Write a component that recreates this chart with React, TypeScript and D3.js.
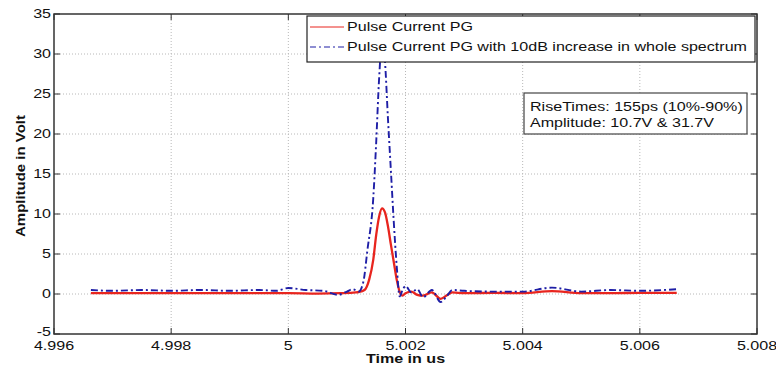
import React from "react";
import * as d3 from "d3";

const xTicks = [4.996, 4.998, 5.0, 5.002, 5.004, 5.006, 5.008];
const xTickLabels = ["4.996", "4.998", "5", "5.002", "5.004", "5.006", "5.008"];
const yTicks = [-5, 0, 5, 10, 15, 20, 25, 30, 35];
const yTickLabels = ["-5", "0", "5", "10", "15", "20", "25", "30", "35"];

const redTime = [
  4.99663, 4.9975, 4.9985, 4.9995, 5.0, 5.0005, 5.0009, 5.00115, 5.0012, 5.0013,
  5.00138, 5.00145, 5.0015, 5.00155, 5.0016, 5.00165, 5.0017, 5.00175, 5.0018,
  5.00185, 5.0019, 5.00195, 5.002, 5.0021, 5.0022, 5.0023, 5.00245, 5.0026,
  5.0027, 5.0028, 5.003, 5.0035, 5.004, 5.0045, 5.005, 5.0055, 5.006, 5.00663,
];
const redValues = [
  0.1, 0.1, 0.1, 0.1, 0.1, 0.05, 0.1, 0.2, 0.25, 0.5,
  1.8, 4.3, 7.4, 9.7, 10.7, 10.2, 8.5, 6.2, 4.0,
  1.8, 0.3, -0.2, 0.1, 0.3, -0.1, -0.2, 0.2, -0.6,
  -0.2, 0.2, 0.1, 0.15, 0.1, 0.35, 0.1, 0.1, 0.15, 0.15,
];

const blueTime = [
  4.99663, 4.997, 4.9975, 4.998, 4.9985, 4.999, 4.9995, 4.9998, 5.0, 5.0003,
  5.0006, 5.00085, 5.001, 5.0011, 5.0012, 5.00128, 5.00135, 5.00145, 5.0015,
  5.00155, 5.0016, 5.00165, 5.0017, 5.00175, 5.0018, 5.00185, 5.0019, 5.00195,
  5.002, 5.0021, 5.0022, 5.0023, 5.00245, 5.0026, 5.0027, 5.0028, 5.003, 5.0035,
  5.004, 5.0045, 5.005, 5.0055, 5.006, 5.00663,
];
const blueValues = [
  0.5, 0.4, 0.5, 0.4, 0.5, 0.4, 0.5, 0.4, 0.75, 0.5,
  0.4, -0.1, 0.3, 0.6, 0.3, 1.5, 5.5, 12.0, 19.0,
  27.0, 31.7, 29.0, 22.0, 15.5, 9.0, 3.5, -0.3, 0.5,
  1.0, 0.2, 0.6, -0.4, 0.5, -1.0, -0.3, 0.5, 0.4, 0.3,
  0.3, 0.8, 0.3, 0.5, 0.4, 0.6,
];

const legendLabels = ["Pulse Current PG", "Pulse Current PG with 10dB increase in whole spectrum"];
const noteLines = ["RiseTimes: 155ps (10%-90%)", "Amplitude: 10.7V & 31.7V"];

const W = 776;
const H = 367;
const M = { left: 54, right: 757, top: 14, bottom: 334 };
const FONT = "'Liberation Sans', Arial, Helvetica, sans-serif";
const SX = 1.34;
const RED = "#e8251e";
const BLUE = "#1e1ea6";

function SText({ x, y, anchor = "start", size = 12, weight = "normal", children }: any) {
  return (
    <text
      transform={`translate(${x},${y}) scale(${SX},1)`}
      textAnchor={anchor}
      fontSize={size}
      fontWeight={weight}
      fontFamily={FONT}
      fill="#111"
    >
      {children}
    </text>
  );
}

export default function App() {
  const x = d3.scaleLinear().domain([4.996, 5.008]).range([M.left, M.right]);
  const y = d3.scaleLinear().domain([-5, 35]).range([M.bottom, M.top]);

  const line = d3
    .line<[number, number]>()
    .x((d) => x(d[0]))
    .y((d) => y(d[1]))
    .curve(d3.curveMonotoneX);

  const redPts = redTime.map((t, i) => [t, redValues[i]] as [number, number]);
  const bluePts = blueTime.map((t, i) => [t, blueValues[i]] as [number, number]);

  const gridColor = "#b8b8b8";
  const axisColor = "#333";

  return (
    <svg
      width={W}
      height={H}
      style={{ position: "absolute", left: 0, top: 0, background: "#fff" }}
    >
      <rect x={0} y={0} width={W} height={H} fill="#fff" />
      {/* grid */}
      {xTicks.slice(1, -1).map((t) => (
        <line key={"gx" + t} x1={x(t)} x2={x(t)} y1={M.top} y2={M.bottom} stroke={gridColor} strokeDasharray="1,2" />
      ))}
      {yTicks.slice(1, -1).map((t) => (
        <line key={"gy" + t} x1={M.left} x2={M.right} y1={y(t)} y2={y(t)} stroke={gridColor} strokeDasharray="1,2" />
      ))}

      {/* series */}
      <path d={line(redPts) || ""} fill="none" stroke={RED} strokeWidth={2.3} />
      <path d={line(bluePts) || ""} fill="none" stroke={BLUE} strokeWidth={1.9} strokeDasharray="7,3,2,3" />

      {/* axes box */}
      <rect x={M.left} y={M.top} width={M.right - M.left} height={M.bottom - M.top} fill="none" stroke={axisColor} strokeWidth={1.5} />
      {xTicks.map((t) => (
        <g key={"tx" + t}>
          <line x1={x(t)} x2={x(t)} y1={M.bottom} y2={M.bottom - 6} stroke={axisColor} />
          <line x1={x(t)} x2={x(t)} y1={M.top} y2={M.top + 6} stroke={axisColor} />
        </g>
      ))}
      {yTicks.map((t) => (
        <g key={"ty" + t}>
          <line x1={M.left} x2={M.left + 6} y1={y(t)} y2={y(t)} stroke={axisColor} />
          <line x1={M.right} x2={M.right - 6} y1={y(t)} y2={y(t)} stroke={axisColor} />
        </g>
      ))}
      {xTicks.map((t, i) => (
        <SText key={"lx" + t} x={x(t)} y={350} anchor="middle">
          {xTickLabels[i]}
        </SText>
      ))}
      {yTicks.map((t, i) => (
        <SText key={"ly" + t} x={M.left - 3} y={t === -5 ? y(t) + 2 : y(t) + 4} anchor="end">
          {yTickLabels[i]}
        </SText>
      ))}

      {/* axis labels */}
      <SText x={(M.left + M.right) / 2} y={363} anchor="middle" weight="bold">
        Time in us
      </SText>
      <text
        transform={`translate(25,176) rotate(-90)`}
        textAnchor="middle"
        fontSize={13}
        fontWeight="bold"
        fontFamily={FONT}
        fill="#111"
        textLength={122}
        lengthAdjust="spacingAndGlyphs"
      >
        Amplitude in Volt
      </text>

      {/* legend */}
      <rect x={307} y={16} width={448} height={46} fill="#fff" stroke="#222" strokeWidth={1.2} />
      <line x1={310} x2={344} y1={27} y2={27} stroke={RED} strokeWidth={1} />
      <line x1={310} x2={344} y1={47} y2={47} stroke={BLUE} strokeWidth={1.2} strokeDasharray="6,3,2,3" />
      <SText x={347} y={31}>{legendLabels[0]}</SText>
      <SText x={347} y={51}>{legendLabels[1]}</SText>

      {/* annotation box */}
      <rect x={524} y={93} width={223} height={41} fill="#fff" stroke="#444" strokeWidth={1.2} />
      <SText x={530} y={111}>{noteLines[0]}</SText>
      <SText x={530} y={127}>{noteLines[1]}</SText>
    </svg>
  );
}
